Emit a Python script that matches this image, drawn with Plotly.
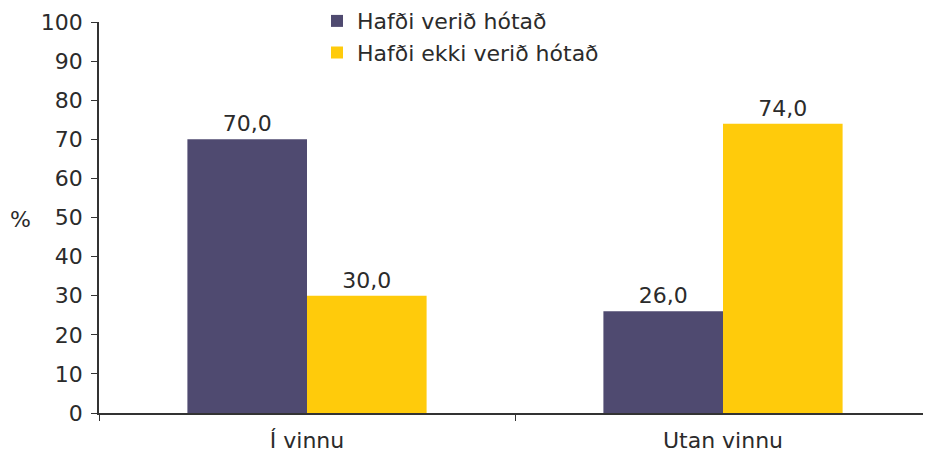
import plotly.graph_objects as go

categories = ["Í vinnu", "Utan vinnu"]
series_names = ["Hafði verið hótað", "Hafði ekki verið hótað"]
threatened = [70.0, 26.0]
not_threatened = [30.0, 74.0]
y_ticks = [0, 10, 20, 30, 40, 50, 60, 70, 80, 90, 100]

colors = ["#4f4a70", "#ffcb0b"]
FONT = "DejaVu Sans"
TXT = "#2b2b2b"
FS = 22

fig = go.Figure()
for name, vals, col in zip(series_names, [threatened, not_threatened], colors):
    fig.add_trace(go.Bar(
        x=categories, y=vals, name=name, marker=dict(color=col, line=dict(width=0)),
        texttemplate="%{y:.1f}", textposition="outside",
        textfont=dict(family=FONT, size=FS, color=TXT), cliponaxis=False,
    ))

# page body has an 8px margin, so the figure is 8px smaller and offset
fig.update_layout(
    width=923, height=446,
    margin=dict(l=91, r=0, t=14, b=41, autoexpand=False),
    paper_bgcolor="white", plot_bgcolor="white",
    barmode="group", bargap=0.425, bargroupgap=0,
    separators=",.",
    font=dict(family=FONT, size=FS, color=TXT),
    showlegend=True,
    legend=dict(x=0.262, y=1.056, xanchor="left", yanchor="top",
                font=dict(family=FONT, size=FS, color=TXT),
                bgcolor="rgba(0,0,0,0)", tracegroupgap=0, itemwidth=30),
)
fig.update_xaxes(
    automargin=False,
    showline=True, linecolor="#333333", linewidth=1.5,
    ticks="outside", tickson="boundaries", ticklen=6, tickcolor="#333333",
    tickfont=dict(family=FONT, size=FS, color=TXT), ticklabelstandoff=7,
    showgrid=False, zeroline=False,
)
fig.update_yaxes(
    automargin=False,
    range=[0, 100], tickvals=y_ticks, showline=True, linecolor="#333333", linewidth=1.5,
    ticks="outside", ticklen=6, tickcolor="#333333",
    tickfont=dict(family=FONT, size=FS, color=TXT), ticklabelstandoff=4,
    showgrid=False, zeroline=False,
)
fig.add_annotation(text="%", xref="paper", yref="paper", x=-0.094, y=0.496,
                   xanchor="center", yanchor="middle",
                   showarrow=False, font=dict(family=FONT, size=FS, color=TXT))

fig.write_html("out.html")
